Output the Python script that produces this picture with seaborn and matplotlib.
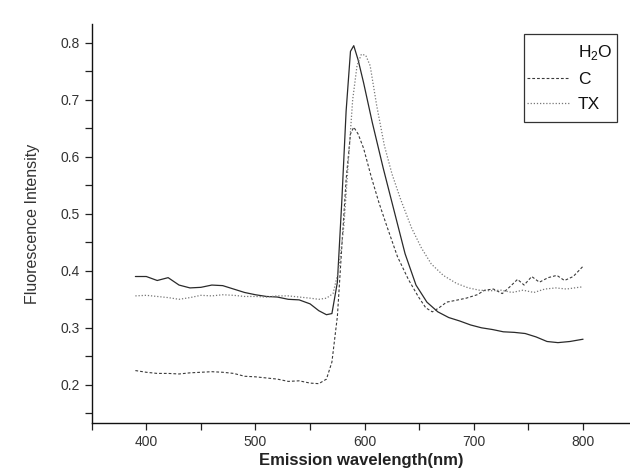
import matplotlib
matplotlib.use("Agg")
import matplotlib.pyplot as plt
import seaborn as sns
import pandas as pd
import numpy as np
from matplotlib.ticker import MultipleLocator
from matplotlib.patches import Rectangle

sns.set_style("ticks")
plt.rcParams['font.family'] = ['Liberation Sans', 'DejaVu Sans']
plt.rcParams['mathtext.fontset'] = 'custom'
plt.rcParams['mathtext.rm'] = 'Liberation Sans'

# ---- data ----
h2o_x = [390, 400, 410, 420, 430, 440, 450, 460, 470, 480, 490, 500, 510, 520, 530, 540, 550, 558, 565, 570,
         575, 579, 583, 587, 590, 594, 599, 607, 617, 627, 637, 647, 657, 667, 677, 687, 697, 707, 717, 727,
         737, 747, 757, 767, 777, 788, 800]
h2o_y = [0.390, 0.390, 0.383, 0.388, 0.375, 0.370, 0.371, 0.375, 0.374, 0.368, 0.362, 0.358, 0.355, 0.354,
         0.350, 0.349, 0.342, 0.330, 0.323, 0.325, 0.380, 0.520, 0.680, 0.785, 0.795, 0.770, 0.730, 0.660,
         0.580, 0.505, 0.430, 0.375, 0.345, 0.328, 0.318, 0.312, 0.305, 0.300, 0.297, 0.293, 0.292, 0.290,
         0.284, 0.276, 0.274, 0.276, 0.280]

c_x = [390, 400, 410, 420, 430, 440, 450, 460, 470, 480, 490, 500, 510, 520, 530, 540, 550, 558, 565, 570,
       575, 579, 583, 587, 590, 594, 599, 606, 613, 620, 630, 640, 649, 656, 662, 668, 675, 683, 693, 703,
       710, 718, 726, 733, 740, 746, 753, 760, 768, 776, 783, 791, 800]
c_y = [0.225, 0.222, 0.220, 0.220, 0.219, 0.221, 0.222, 0.223, 0.222, 0.220, 0.215, 0.214, 0.212, 0.210,
       0.206, 0.207, 0.203, 0.202, 0.210, 0.240, 0.320, 0.440, 0.560, 0.640, 0.652, 0.640, 0.615, 0.565,
       0.520, 0.480, 0.425, 0.385, 0.355, 0.335, 0.328, 0.335, 0.345, 0.348, 0.352, 0.358, 0.366, 0.368,
       0.360, 0.372, 0.385, 0.375, 0.390, 0.380, 0.388, 0.392, 0.383, 0.390, 0.408]

tx_x = [390, 400, 410, 420, 430, 440, 450, 460, 470, 480, 490, 500, 510, 520, 530, 540, 550, 558, 565, 571,
        576, 581, 585, 589, 593, 597, 601, 605, 611, 618, 625, 633, 643, 652, 661, 672, 684, 695, 705, 715,
        725, 735, 745, 755, 765, 775, 785, 792, 800]
tx_y = [0.356, 0.357, 0.355, 0.353, 0.350, 0.353, 0.357, 0.356, 0.358, 0.357, 0.355, 0.355, 0.354, 0.356,
        0.356, 0.354, 0.352, 0.350, 0.352, 0.360, 0.400, 0.480, 0.590, 0.700, 0.760, 0.780, 0.778, 0.760,
        0.690, 0.620, 0.570, 0.525, 0.475, 0.440, 0.412, 0.392, 0.378, 0.370, 0.366, 0.365, 0.366, 0.362,
        0.366, 0.362, 0.368, 0.370, 0.368, 0.370, 0.372]

series_names = ['H$_2$O', 'C', 'TX']
styles = {
    'H$_2$O': dict(color='#2a2a2a', linestyle='-', linewidth=0.9),
    'C': dict(color='#3a3a3a', linestyle=(0, (2.5, 1.8)), linewidth=0.8),
    'TX': dict(color='#777777', linestyle=(0, (1, 1.5)), linewidth=0.9),
}

W, H = 630, 476
fig = plt.figure(figsize=(W / 100, H / 100), dpi=100)
ax = fig.add_axes([91.7 / W, 1 - 423 / H, 1 - 91.7 / W, (423 - 24) / H])

for name, xs, ys in zip(series_names, [h2o_x, c_x, tx_x], [h2o_y, c_y, tx_y]):
    df = pd.DataFrame({'x': xs, 'y': ys})
    sns.lineplot(data=df, x='x', y='y', ax=ax, label=name, estimator=None, sort=False, **styles[name])

ax.set_xlim(350, 843)
ax.set_ylim(0.133, 0.833)
ax.xaxis.set_minor_locator(MultipleLocator(50))
ax.yaxis.set_minor_locator(MultipleLocator(0.05))
ax.set_xticks([400, 500, 600, 700, 800])
ax.set_yticks([0.2, 0.3, 0.4, 0.5, 0.6, 0.7, 0.8])
ax.set_yticklabels(['0.2', '0.3', '0.4', '0.5', '0.6', '0.7', '0.8'])

ax.tick_params(axis='both', which='major', length=5, width=0.9, color='#222222', labelsize=10, labelcolor='#333333', direction='out')
ax.tick_params(axis='both', which='minor', length=5, width=0.9, color='#222222', direction='out')

for s in ['top', 'right']:
    ax.spines[s].set_visible(False)
for s in ['left', 'bottom']:
    ax.spines[s].set_linewidth(1.0)
    ax.spines[s].set_color('#111111')

ax.set_xlabel('Emission wavelength(nm)', fontsize=12, fontweight='bold', color='#222222', labelpad=3)
ax.set_ylabel('Fluorescence Intensity', fontsize=11.5, color='#333333', labelpad=15)

handles, labels = ax.get_legend_handles_labels()
leg = ax.legend(handles, labels, loc='upper left', bbox_to_anchor=(524 / W, 1 - 40 / H),
                bbox_transform=fig.transFigure, borderaxespad=0, frameon=False,
                fontsize=12.5, handlelength=2.45, handletextpad=0.5, labelspacing=0.58,
                borderpad=0.15, markerfirst=True)
for t in leg.get_texts():
    t.set_color('#111111')
leg.legend_handles[0].set_alpha(0)

# legend frame box as in the reference
frame = Rectangle((524 / W, 1 - 122 / H), (617 - 524) / W, (122 - 34) / H, transform=fig.transFigure,
                  fill=False, edgecolor='#333333', linewidth=0.9)
fig.add_artist(frame)

fig.savefig('out.png', dpi=100)
